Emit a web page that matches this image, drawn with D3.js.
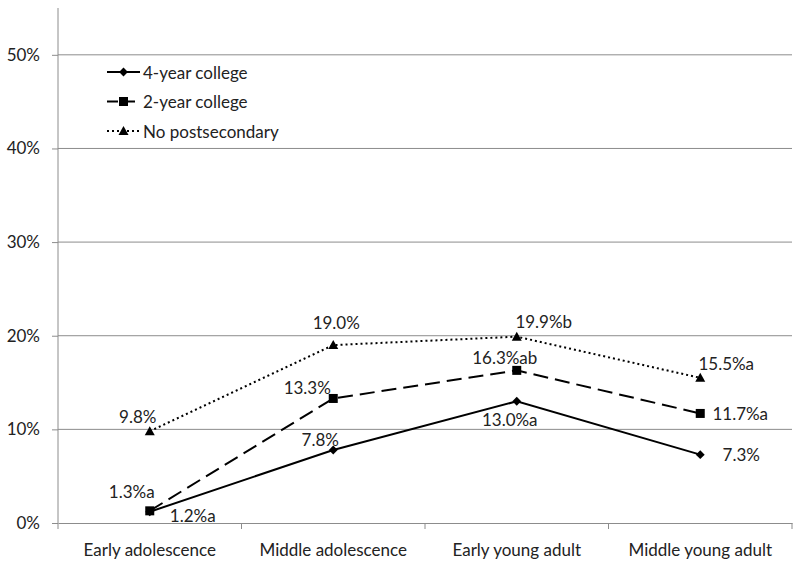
<!DOCTYPE html>
<html><head><meta charset="utf-8">
<script src="https://cdn.jsdelivr.net/npm/d3@7"></script>
<style>body{margin:0;background:#fff}svg{display:block}text{font-family:Lato,"Open Sans",sans-serif;fill:#222}</style>
</head><body>
<svg id="c" width="800" height="570"></svg>
<script>
const categories = ["Early adolescence","Middle adolescence","Early young adult","Middle young adult"];
const fourYear = [1.2, 7.8, 13.0, 7.3];
const twoYear = [1.3, 13.3, 16.3, 11.7];
const noPost = [9.8, 19.0, 19.9, 15.5];
const fourYearLabels = ["1.2%a","7.8%","13.0%a","7.3%"];
const twoYearLabels = ["1.3%a","13.3%","16.3%ab","11.7%a"];
const noPostLabels = ["9.8%","19.0%","19.9%b","15.5%a"];
const yTicks = [0,10,20,30,40,50];
const seriesNames = ["4-year college","2-year college","No postsecondary"];

(function(){
const svg = d3.select("#c");
const pl = 58, pr = 792, pt = 8, pb = 523;
const x = d3.scaleBand().domain(categories).range([pl, pr]);
const y = d3.scaleLinear().domain([0, 55]).range([pb, pt]);
const fs = 17;
const ff = 'Lato,"Open Sans",sans-serif';

svg.append("g").selectAll("line").data(yTicks.filter(d=>d>0)).join("line")
  .attr("x1", pl).attr("x2", pr).attr("y1", d=>y(d)).attr("y2", d=>y(d))
  .attr("stroke", "#8c8c8c").attr("stroke-width", 1);

const yAxis = svg.append("g").attr("transform", `translate(${pl},0)`)
  .call(d3.axisLeft(y).tickValues(yTicks).tickFormat(d=>d+"%").tickSize(6).tickPadding(12));
yAxis.select(".domain").attr("stroke","#8c8c8c").attr("d", `M0,${pb}V${pt}`);
yAxis.selectAll(".tick line").attr("stroke","#8c8c8c");
yAxis.selectAll(".tick text").attr("font-size", fs).style("font-family",ff).attr("fill","#222");

const xAxis = svg.append("g").attr("transform", `translate(0,${pb})`)
  .call(d3.axisBottom(x).tickSize(0).tickPadding(21));
xAxis.select(".domain").attr("stroke","#8c8c8c");
xAxis.selectAll(".tick text").attr("font-size", fs).style("font-family",ff).attr("fill","#222");
const bx = categories.map(c=>x(c)).concat([x(categories[categories.length-1])+x.bandwidth()]);
svg.append("g").selectAll("line").data(bx).join("line")
  .attr("x1", d=>d).attr("x2", d=>d).attr("y1", pb).attr("y2", pb+6).attr("stroke","#8c8c8c");

const cx = d => x(d) + x.bandwidth()/2;

const series = [
  {name: seriesNames[0], values: fourYear, labels: fourYearLabels, dash: null, marker: "diamond",
   off: [[43,4],[-13,-10],[-7,18],[41,0]]},
  {name: seriesNames[1], values: twoYear, labels: twoYearLabels, dash: "15,7", marker: "square",
   off: [[-18,-19],[-26,-11],[-12,-13],[40,0]]},
  {name: seriesNames[2], values: noPost, labels: noPostLabels, dash: "2,3", marker: "triangle",
   off: [[-12,-15],[3,-23],[27,-15],[26,-14]]}
];

function marker(g, type, px, py) {
  if (type === "diamond") {
    g.append("path").attr("d", d3.symbol().type(d3.symbolDiamond2).size(50)()).attr("transform",`translate(${px},${py})`).attr("fill","#000");
  } else if (type === "square") {
    g.append("rect").attr("x", px-4.5).attr("y", py-4.5).attr("width",9).attr("height",9).attr("fill","#000");
  } else {
    g.append("path").attr("d", `M${px},${py-5}L${px+5},${py+4}L${px-5},${py+4}Z`).attr("fill","#000");
  }
}

const line = d3.line().x((d,i)=>cx(categories[i])).y(d=>y(d));
series.forEach(s => {
  const g = svg.append("g");
  g.append("path").datum(s.values).attr("d", line).attr("fill","none").attr("stroke","#000")
    .attr("stroke-width", 2).attr("stroke-dasharray", s.dash);
  s.values.forEach((v,i) => marker(g, s.marker, cx(categories[i]), y(v)));
  s.values.forEach((v,i) => {
    g.append("text").attr("x", cx(categories[i]) + s.off[i][0]).attr("y", y(v) + s.off[i][1])
      .attr("text-anchor","middle").attr("dominant-baseline","central").attr("font-size", fs).text(s.labels[i]);
  });
});

const lg = svg.append("g");
series.forEach((s,i) => {
  const ly = 72 + i*29.5;
  lg.append("line").attr("x1",107).attr("x2",140).attr("y1",ly).attr("y2",ly)
    .attr("stroke","#000").attr("stroke-width",2).attr("stroke-dasharray", s.dash ? (s.dash==="2,3" ? "2,3" : "11,6") : null);
  marker(lg, s.marker, 123.5, ly);
  lg.append("text").attr("x",143).attr("y",ly).attr("dominant-baseline","central").attr("font-size",fs).text(s.name);
});
})();
</script>
</body></html>
